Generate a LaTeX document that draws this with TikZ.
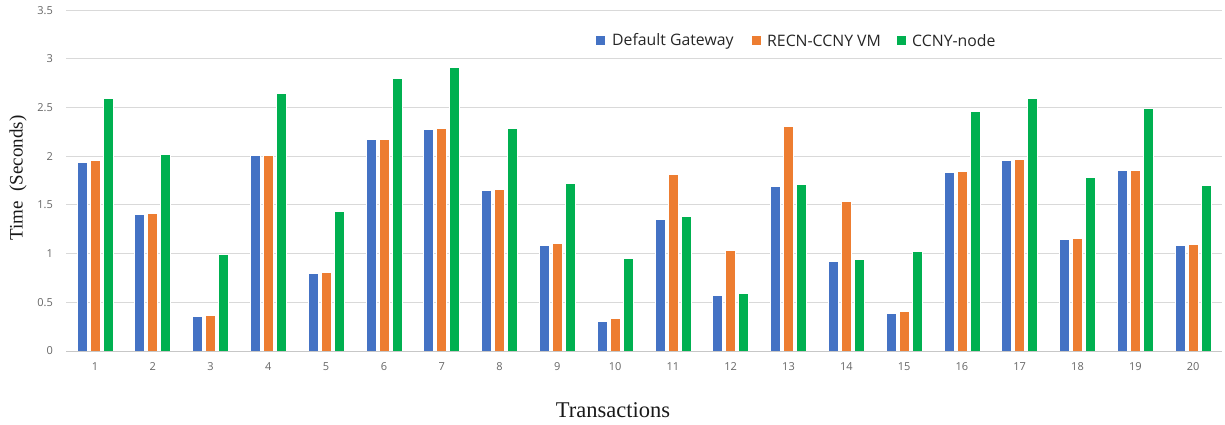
\documentclass[tikz,border=0pt]{standalone}
\usepackage{fontspec}
\setmainfont{Liberation Serif}
\newfontfamily\chartfont{Open Sans}
\begin{document}
\begin{tikzpicture}[x=1pt,y=-1pt,
  grid/.style={draw=black!15,line width=0.9pt},
  baseaxis/.style={draw=black!22,line width=1pt},
  bar/.style={draw=white,line width=0.8pt},
  tick/.style={font=\chartfont\fontsize{11}{12}\selectfont,text=black!60,inner sep=0pt},
  legtext/.style={font=\chartfont\fontsize{15.8}{18}\selectfont,text=black!85,anchor=west,inner sep=0pt},
  title/.style={font=\fontsize{19}{22}\selectfont,text=black!90,inner sep=0pt}]
\definecolor{gw}{HTML}{4472C4}
\definecolor{vm}{HTML}{ED7D31}
\definecolor{cn}{HTML}{00B050}
\useasboundingbox (0,0) rectangle (1225,425);
% value axis: 0 at y=351, 0.5 per 48.7 px
\def\yz{351}
\def\ys{97.4}
\def\xl{66}
\def\xr{1222}
\def\gw{57.8}
% horizontal grid lines and value labels
\foreach \v/\lab in {0.5/0.5,1/1,1.5/1.5,2/2,2.5/2.5,3/3,3.5/3.5}{
  \draw[grid] (\xl,\yz-\v*\ys) -- (\xr,\yz-\v*\ys);
  \node[tick,anchor=east] (yl\lab) at (53,\yz-\v*\ys) {\lab};
}
\node[tick,anchor=east] (yl0) at (53,\yz) {0};
% bars: group / default gateway / RECN-CCNY VM / CCNY-node
\foreach \i/\a/\b/\c in {
  1/1.94/1.96/2.59, 2/1.40/1.41/2.02, 3/0.36/0.37/0.99, 4/2.01/2.01/2.64,
  5/0.80/0.81/1.43, 6/2.17/2.17/2.80, 7/2.28/2.29/2.91, 8/1.65/1.66/2.29,
  9/1.08/1.10/1.72, 10/0.30/0.33/0.95, 11/1.35/1.81/1.38, 12/0.57/1.03/0.59,
  13/1.69/2.31/1.71, 14/0.92/1.54/0.94, 15/0.39/0.41/1.02, 16/1.83/1.84/2.46,
  17/1.96/1.97/2.59, 18/1.15/1.16/1.78, 19/1.85/1.85/2.49, 20/1.08/1.09/1.70}{
  \pgfmathsetmacro\cx{\xl+\gw*(\i-0.5)}
  \fill[gw,bar] (\cx-18,\yz) rectangle (\cx-8,\yz-\a*\ys);
  \fill[vm,bar] (\cx-5,\yz) rectangle (\cx+5,\yz-\b*\ys);
  \fill[cn,bar] (\cx+8,\yz) rectangle (\cx+18,\yz-\c*\ys);
  \node[tick] (xl\i) at (\cx,367) {\i};
}
\draw[baseaxis] (\xl,\yz) -- (\xr,\yz);
% legend
\fill[gw] (596,36.5) rectangle (604.5,45);
\node[legtext] (lg1) at (612,41) {Default Gateway};
\fill[vm] (752,36.5) rectangle (760.5,45);
\node[legtext] (lg2) at (767,41) {RECN-CCNY VM};
\fill[cn] (897,36.5) rectangle (905.5,45);
\node[legtext] (lg3) at (912,41) {CCNY-node};
% axis titles
\node[title,rotate=90] (ytitle) at (18,178) {Time\ \ (Seconds)};
\node[title,font=\fontsize{22.5}{26}\selectfont] (xtitle) at (613,410) {Transactions};
\end{tikzpicture}
\end{document}
